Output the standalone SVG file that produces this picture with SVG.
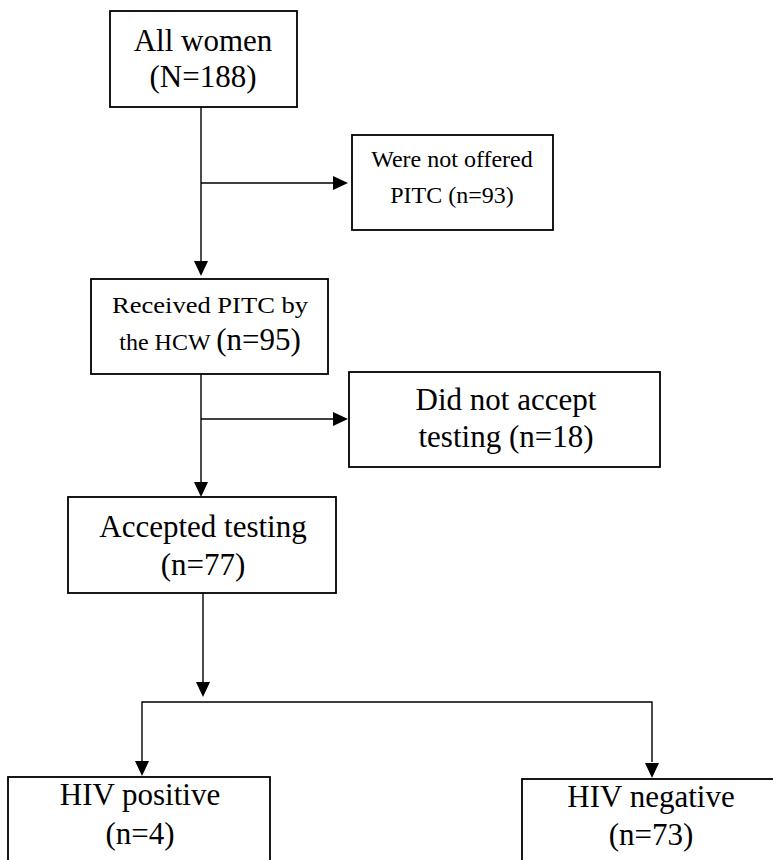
<svg xmlns="http://www.w3.org/2000/svg" width="773" height="860" viewBox="0 0 773 860">
<style>
.box{fill:#fff;stroke:#000;stroke-width:1.8}
.ln{fill:none;stroke:#000;stroke-width:1.4}
text{font-family:"Liberation Serif","Times New Roman",serif;fill:#000;text-anchor:middle}
.big{font-size:31px}
.sm{font-size:24px}
</style>
<defs>
<marker id="ah" markerWidth="10" markerHeight="10" refX="10" refY="5" orient="auto" markerUnits="userSpaceOnUse" viewBox="0 0 10 10">
<path d="M0,0 L10,5 L0,10 Z" fill="#000"/>
</marker>
</defs>
<g id="connectors">
<path class="ln" d="M201,107 V262" />
<path d="M194,261 L208,261 L201,276 Z"/>
<path class="ln" d="M201,183 H334"/>
<path d="M333,176 L333,190 L348,183 Z"/>
<path class="ln" d="M201,374 V483"/>
<path d="M194,482 L208,482 L201,497 Z"/>
<path class="ln" d="M201,419 H334"/>
<path d="M333,412 L333,426 L348,419 Z"/>
<path class="ln" d="M203,593 V683"/>
<path d="M196,682 L210,682 L203,697 Z"/>
<path class="ln" d="M142,762 V702 H652 V762"/>
<path d="M135,761 L149,761 L142,776 Z"/>
<path d="M645,763 L659,763 L652,778 Z"/>
</g>
<g id="n1">
<rect class="box" x="110" y="11" width="187" height="96"/>
<text class="big" x="203" y="51">All women</text>
<text class="big" x="203" y="87">(N=188)</text>
</g>
<g id="n2">
<rect class="box" x="352" y="135" width="201" height="95"/>
<text class="sm" x="452" y="167">Were not offered</text>
<text class="sm" x="452" y="203">PITC (n=93)</text>
</g>
<g id="n3">
<rect class="box" x="91" y="279" width="237" height="95"/>
<text class="sm" x="210" y="313" textLength="196" lengthAdjust="spacingAndGlyphs">Received PITC by</text>
<text x="210" y="350"><tspan class="sm">the HCW </tspan><tspan class="big">(n=95)</tspan></text>
</g>
<g id="n4">
<rect class="box" x="349" y="372" width="311" height="95"/>
<text class="big" x="506" y="410">Did not accept</text>
<text class="big" x="506" y="447">testing (n=18)</text>
</g>
<g id="n5">
<rect class="box" x="68" y="497" width="268" height="96"/>
<text class="big" x="203" y="537">Accepted testing</text>
<text class="big" x="203" y="575">(n=77)</text>
</g>
<g id="n6">
<rect class="box" x="8" y="777" width="262" height="100"/>
<text class="big" x="140" y="805">HIV positive</text>
<text class="big" x="140" y="844">(n=4)</text>
</g>
<g id="n7">
<rect class="box" x="522" y="779" width="260" height="100"/>
<text class="big" x="651" y="807">HIV negative</text>
<text class="big" x="651" y="845">(n=73)</text>
</g>
</svg>
